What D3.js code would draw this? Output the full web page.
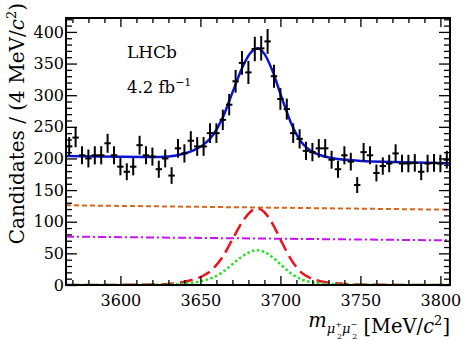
<!DOCTYPE html>
<html><head><meta charset="utf-8">
<script src="https://cdn.jsdelivr.net/npm/d3@7"></script>
<style>
html,body{margin:0;padding:0;background:#fff;}
svg{display:block;}
</style></head><body>
<svg id="chart" width="474" height="340"></svg>
<script>
// ---- data ----
const binCenters = [3568,3572,3576,3580,3584,3588,3592,3596,3600,3604,3608,3612,3616,3620,3624,
  3628,3632,3636,3640,3644,3648,3652,3656,3660,3664,3668,3672,3676,3680,3684,
  3688,3692,3696,3700,3704,3708,3712,3716,3720,3724,3728,3732,3736,3740,3744,
  3748,3752,3756,3760,3764,3768,3772,3776,3780,3784,3788,3792,3796,3800,3804];
const counts = [219,233,205,200,205,205,224,205,187,179,187,221,205,203,183,
  200,173,216,208,228,219,219,240,240,261,285,322,351,336,373,
  374,385,330,294,278,240,231,212,210,216,216,198,183,205,195,
  158,210,205,177,188,192,208,192,192,193,179,192,193,192,198];
const binWidth = 4;

const fitMass  = [3566,3600,3620,3630,3640,3646,3652,3658,3664,3670,3676,3681,3685.5,3690,3695,3701,3707,3713,3719,3725,3731,3741,3751,3770,3806];
const totalFit = [204,202.7,202.3,203.1,207.8,213.2,221.9,237.6,264.8,304,342.7,365.8,374.3,365.3,338.8,295,253.9,226,212,205.1,201.2,197.8,196,194.5,192.5];
const sigRed   = [0,0.2,0.6,1.5,5,9,15,26,45,72,99,115,121,115,97,67,39,20,10.5,6,3.5,1.5,0.6,0.2,0];
const sigGreen = [0,0.1,0.3,0.7,2.3,4,7,12,20.5,33,45,52.3,55,52.3,44,30.5,17.7,9,4.8,2.7,1.6,0.7,0.3,0.1,0];
const bkgMass    = [3566,3806];
const bkgOrange  = [126,119];
const bkgMagenta = [76.5,70.5];

const xMajor = [3600,3650,3700,3750,3800];
const xMinor = [3570,3580,3590,3610,3620,3630,3640,3660,3670,3680,3690,3710,3720,3730,3740,3760,3770,3780,3790];
const yMajor = [0,50,100,150,200,250,300,350,400];
const yMinor = [10,20,30,40,60,70,80,90,110,120,130,140,160,170,180,190,210,220,230,240,260,270,280,290,310,320,330,340,360,370,380,390,410,420];

// ---- layout ----
const L = 66, R = 450, T = 18, B = 285;
const FONT = "DejaVu Serif";
const svg = d3.select("#chart");
const x = d3.scaleLinear().domain([3566, 3806]).range([L, R]);
const y = d3.scaleLinear().domain([0, 422]).range([B, T]);

svg.append("defs").append("clipPath").attr("id","clip")
  .append("rect").attr("x",L).attr("y",T).attr("width",R-L).attr("height",B-T);

const plot = svg.append("g").attr("clip-path","url(#clip)");

function drawCurve(xs, ys, color, width, dash) {
  const pts = xs.map((m,i)=>[m, ys[i]]);
  const line = d3.line().x(d=>x(d[0])).y(d=>y(d[1])).curve(d3.curveMonotoneX);
  plot.append("path").attr("d", line(pts)).attr("fill","none")
    .attr("stroke",color).attr("stroke-width",width)
    .attr("stroke-dasharray",dash || null);
}
drawCurve(bkgMass, bkgOrange, "#d9661c", 2, "5,3");
drawCurve(bkgMass, bkgMagenta, "#c414f0", 2, "8,3,2,3");
drawCurve(fitMass, sigRed, "#e8141e", 2.5, "13,6");
drawCurve(fitMass, sigGreen, "#22e022", 2.5, "2.5,2.5");
drawCurve(fitMass, totalFit, "#0a14d8", 2.5, null);

// data points with Poisson errors
const pg = plot.append("g").attr("stroke","#000").attr("stroke-width",2);
binCenters.forEach((m,i)=>{
  const v = counts[i], e = Math.sqrt(v);
  pg.append("line").attr("x1",x(m-binWidth/2)).attr("x2",x(m+binWidth/2))
    .attr("y1",y(v)).attr("y2",y(v));
  pg.append("line").attr("x1",x(m)).attr("x2",x(m))
    .attr("y1",y(v-e)).attr("y2",y(v+e));
});

// ---- axes ----
function styleAxis(g){
  g.attr("font-family", FONT);
  g.select(".domain").remove();
  g.selectAll("line").attr("stroke","#000").attr("stroke-width",1.3);
}
function styleLabels(g){ g.selectAll("text").attr("font-size",16).attr("fill","#000").attr("font-family",FONT); }
svg.append("g").attr("transform",`translate(${L},0)`)
  .call(d3.axisLeft(y).tickValues(yMajor).tickSize(-11).tickPadding(2).tickFormat(d3.format("d")))
  .call(styleAxis).call(styleLabels);
svg.append("g").attr("transform",`translate(${L},0)`)
  .call(d3.axisLeft(y).tickValues(yMinor).tickSize(-6).tickFormat(""))
  .call(styleAxis);
svg.append("g").attr("transform",`translate(${R},0)`)
  .call(d3.axisRight(y).tickValues(yMajor).tickSize(-11).tickFormat(""))
  .call(styleAxis);
svg.append("g").attr("transform",`translate(${R},0)`)
  .call(d3.axisRight(y).tickValues(yMinor).tickSize(-6).tickFormat(""))
  .call(styleAxis);
svg.append("g").attr("transform",`translate(0,${B})`)
  .call(d3.axisBottom(x).tickValues(xMajor).tickSize(-9).tickPadding(10).tickFormat(d3.format("d")))
  .call(styleAxis).call(styleLabels);
svg.append("g").attr("transform",`translate(0,${B})`)
  .call(d3.axisBottom(x).tickValues(xMinor).tickSize(-5).tickFormat(""))
  .call(styleAxis);
svg.append("g").attr("transform",`translate(0,${T})`)
  .call(d3.axisTop(x).tickValues(xMajor).tickSize(-9).tickFormat(""))
  .call(styleAxis);
svg.append("g").attr("transform",`translate(0,${T})`)
  .call(d3.axisTop(x).tickValues(xMinor).tickSize(-5).tickFormat(""))
  .call(styleAxis);

// frame
svg.append("rect").attr("x",L).attr("y",T).attr("width",R-L).attr("height",B-T)
  .attr("fill","none").attr("stroke","#000").attr("stroke-width",2);

// ---- texts ----
const txt = svg.append("g").attr("font-family", FONT).attr("fill","#000");
txt.append("text").attr("x",127).attr("y",58).attr("font-size",17).text("LHCb");
const lumi = txt.append("text").attr("x",127).attr("y",93).attr("font-size",16.5);
lumi.append("tspan").text("4.2 fb");
lumi.append("tspan").attr("dy",-7).attr("font-size",11).text("\u22121");

// y title
const yt = txt.append("text").attr("transform","translate(24,3) rotate(-90)")
  .attr("text-anchor","end").attr("font-size",20);
yt.append("tspan").text("Candidates / (4 MeV/");
yt.append("tspan").attr("font-style","italic").text("c");
yt.append("tspan").attr("dy",-8).attr("font-size",13).text("2");
yt.append("tspan").attr("dy",8).text(")");

// x title
const xt = txt.append("text").attr("x",450).attr("y",327).attr("text-anchor","end").attr("font-size",19.5);
xt.append("tspan").attr("font-style","italic").text("m");
xt.append("tspan").attr("font-style","italic").attr("dy",6).attr("font-size",13).text("\u03bc");
xt.append("tspan").attr("dy",-6).attr("font-size",8).text("+");
xt.append("tspan").attr("dx",-5).attr("dy",12).attr("font-size",8).text("2");
xt.append("tspan").attr("font-style","italic").attr("dy",-6).attr("font-size",13).text("\u03bc");
xt.append("tspan").attr("dy",-6).attr("font-size",8).text("\u2212");
xt.append("tspan").attr("dx",-5).attr("dy",12).attr("font-size",8).text("2");
xt.append("tspan").attr("dy",-6).text(" [MeV/");
xt.append("tspan").attr("font-style","italic").text("c");
xt.append("tspan").attr("dy",-8).attr("font-size",13).text("2");
xt.append("tspan").attr("dy",8).text("]");
</script>
</body></html>
